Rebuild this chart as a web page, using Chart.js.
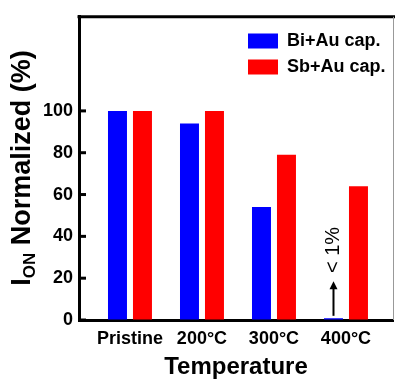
<!DOCTYPE html>
<html>
<head>
<meta charset="utf-8">
<script src="https://cdn.jsdelivr.net/npm/chart.js@4/dist/chart.umd.min.js"></script>
<style>
  html, body { margin: 0; padding: 0; background: #fff; }
  #wrap { width: 395px; height: 381px; }
</style>
</head>
<body>
<div id="wrap"><canvas id="ionChart" width="395" height="381"></canvas></div>
<script>
// Normalized on-current after annealing
const categories = ['Pristine', '200°C', '300°C', '400°C'];
const biAuValues = [100, 94, 54, 0.8];
const sbAuValues = [100, 100, 79, 64];
const yTicks = [0, 20, 40, 60, 80, 100];
const seriesLabels = ['Bi+Au cap.', 'Sb+Au cap.'];
const noteText = '< 1%';

const FONT = "'Liberation Sans', Arial, sans-serif";

// index positions for the linear x scale
const xIdx = categories.map((c, i) => i);

// draws frame, inner ticks, axis titles, legend and the "< 1%" note
const decorPlugin = {
    id: 'decor',
    afterDraw(chart) {
        const c = chart.ctx;
        const area = chart.chartArea;
        const ys = chart.scales.y;

        c.save();
        // top frame
        c.strokeStyle = '#000';
        c.lineWidth = 3;
        c.beginPath();
        c.moveTo(area.left - 1.5, area.top);
        c.lineTo(chart.width, area.top);
        c.stroke();
        // right frame
        c.strokeStyle = '#999';
        c.lineWidth = 1;
        c.beginPath();
        c.moveTo(area.right + 0.5, area.top);
        c.lineTo(area.right + 0.5, area.bottom);
        c.stroke();

        // inward tick marks on y
        c.strokeStyle = '#000';
        c.lineWidth = 3;
        yTicks.forEach(v => {
            const py = ys.getPixelForValue(v);
            c.beginPath();
            c.moveTo(area.left, py);
            c.lineTo(area.left + 7, py);
            c.stroke();
        });

        // y title with subscript
        c.fillStyle = '#000';
        const bigFont = 'bold 27px ' + FONT;
        const subFont = 'bold 17px ' + FONT;
        c.font = bigFont;
        const wI = c.measureText('I').width;
        const wRest = c.measureText(' Normalized (%)').width;
        c.font = subFont;
        const wSub = c.measureText('ON').width;
        const total = wI + wSub + wRest;
        c.translate(30, 168);
        c.rotate(-Math.PI / 2);
        c.textBaseline = 'alphabetic';
        c.textAlign = 'left';
        let tx = -total / 2;
        c.font = bigFont;
        c.fillText('I', tx, 0);
        tx += wI;
        c.font = subFont;
        c.fillText('ON', tx, 5);
        tx += wSub;
        c.font = bigFont;
        c.fillText(' Normalized (%)', tx, 0);
        c.restore();

        // x title
        c.save();
        c.fillStyle = '#000';
        c.font = 'bold 24px ' + FONT;
        c.textAlign = 'center';
        c.textBaseline = 'middle';
        c.fillText('Temperature', (area.left + area.right) / 2, 367);
        c.restore();

        // legend
        c.save();
        c.font = 'bold 18px ' + FONT;
        c.textBaseline = 'middle';
        c.textAlign = 'left';
        chart.data.datasets.forEach((ds, i) => {
            const ly = 41 + i * 26;
            c.fillStyle = ds.backgroundColor;
            c.fillRect(248, ly - 7.5, 30, 15);
            c.fillStyle = '#000';
            c.fillText(ds.label, 287, ly);
        });
        c.restore();

        // "< 1%" note with arrow above the tiny Bi bar
        const bar = chart.getDatasetMeta(0).data[3];
        const ax = bar.x;
        const yBot = ys.getPixelForValue(2);
        const yTip = ys.getPixelForValue(18.5);
        c.save();
        c.strokeStyle = '#000';
        c.fillStyle = '#000';
        c.lineWidth = 2;
        c.beginPath();
        c.moveTo(ax, yBot);
        c.lineTo(ax, yTip + 5);
        c.stroke();
        c.beginPath();
        c.moveTo(ax, yTip);
        c.lineTo(ax - 4, yTip + 8);
        c.lineTo(ax + 4, yTip + 8);
        c.closePath();
        c.fill();
        c.translate(ax, ys.getPixelForValue(33.5));
        c.rotate(-Math.PI / 2);
        c.font = '20px ' + FONT;
        c.textAlign = 'center';
        c.textBaseline = 'middle';
        c.fillText(noteText, 0, 0);
        c.restore();
    }
};

new Chart(document.getElementById('ionChart'), {
    type: 'bar',
    data: {
        datasets: [
            {
                label: seriesLabels[0],
                data: xIdx.map(i => ({ x: i, y: biAuValues[i] })),
                backgroundColor: '#0000ff'
            },
            {
                label: seriesLabels[1],
                data: xIdx.map(i => ({ x: i, y: sbAuValues[i] })),
                backgroundColor: '#ff0000'
            }
        ]
    },
    options: {
        responsive: false,
        animation: false,
        categoryPercentage: 0.694,
        barPercentage: 0.76,
        layout: { padding: { left: 0, right: 2, top: 6, bottom: 0 } },
        plugins: {
            legend: { display: false },
            tooltip: { enabled: false }
        },
        scales: {
            x: {
                type: 'linear',
                offset: false,
                min: -0.708,
                max: 3.653,
                afterBuildTicks: s => { s.ticks = xIdx.map(v => ({ value: v })); },
                afterFit: s => { s.height = 61; },
                grid: { display: true, drawOnChartArea: false, drawTicks: false },
                border: { display: true, color: '#000', width: 3 },
                ticks: {
                    padding: 8,
                    color: '#000',
                    font: { family: FONT, size: 18, weight: 'bold' },
                    callback: v => categories[v] || ''
                }
            },
            y: {
                min: 0,
                max: 145,
                afterBuildTicks: s => { s.ticks = yTicks.map(v => ({ value: v })); },
                afterFit: s => { s.width = 79; },
                grid: { display: true, drawOnChartArea: false, drawTicks: false },
                border: { display: true, color: '#000', width: 3 },
                ticks: {
                    padding: 6,
                    color: '#000',
                    font: { family: FONT, size: 18, weight: 'bold' }
                }
            }
        }
    },
    plugins: [decorPlugin]
});
</script>
</body>
</html>
